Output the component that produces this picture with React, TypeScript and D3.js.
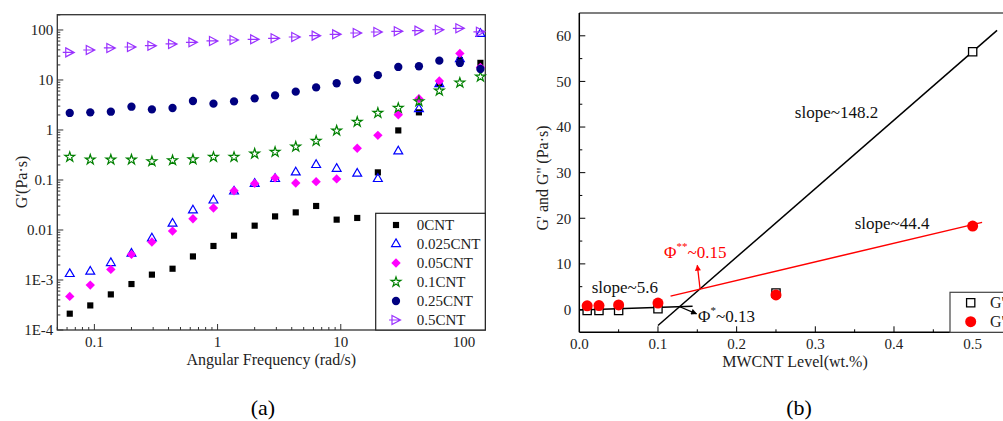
import React, { useEffect, useRef } from 'react';
import * as d3 from 'd3';

// (a) storage modulus vs angular frequency
const freq = [0.0631, 0.0926, 0.136, 0.2, 0.293, 0.431, 0.631, 0.926, 1.36, 2.0, 2.93, 4.31, 6.31, 9.26, 13.6, 20.0, 29.3, 43.1, 63.1, 92.6, 136];
const cnt0 = [2.12e-4, 3.1e-4, 5.15e-4, 8.3e-4, 1.28e-3, 1.68e-3, 2.96e-3, 4.79e-3, 7.7e-3, 0.0122, 0.0187, 0.0225, 0.0302, 0.0161, 0.0174, 0.142, 0.98, 2.25, 8.5, 25, 22];
const cnt025 = [1.32e-3, 1.47e-3, 2.19e-3, 3.36e-3, 6.8e-3, 0.0134, 0.0247, 0.039, 0.059, 0.084, 0.105, 0.142, 0.2, 0.168, 0.134, 0.105, 0.373, 2.63, 8.3, 26.3, 84];
const cnt05 = [4.7e-4, 7.9e-4, 1.63e-3, 3.25e-3, 5.75e-3, 9.5e-3, 0.0168, 0.0275, 0.061, 0.0855, 0.11, 0.087, 0.0925, 0.105, 0.43, 0.78, 2.02, 4.23, 9.55, 34, 17.9];
const cnt1 = [0.288, 0.255, 0.255, 0.255, 0.236, 0.247, 0.258, 0.288, 0.288, 0.336, 0.363, 0.463, 0.603, 0.97, 1.45, 2.19, 2.75, 3.73, 6.1, 8.8, 11.6];
const cnt25 = [2.19, 2.25, 2.32, 2.92, 2.58, 2.75, 3.8, 3.36, 3.73, 4.29, 4.92, 5.83, 7.1, 8.6, 10.1, 12.5, 18.2, 18.8, 24.3, 21.9, 16.6];
const cnt5 = [35.6, 39.8, 43.7, 45.7, 48.5, 52.5, 56.5, 60.3, 63, 64.9, 68, 72.4, 77, 81.7, 87, 91, 94, 97, 101, 108, 92];
const seriesNames = ['0CNT', '0.025CNT', '0.05CNT', '0.1CNT', '0.25CNT', '0.5CNT'];
const freqTicks = [0.1, 1, 10, 100];
const freqTickLabels = ['0.1', '1', '10', '100'];
const modTicks = [1e-4, 1e-3, 0.01, 0.1, 1, 10, 100];
const modTickLabels = ['1E-4', '1E-3', '0.01', '0.1', '1', '10', '100'];

// (b) moduli vs MWCNT level
const levels = [0.01, 0.025, 0.05, 0.1, 0.25, 0.5];
const gStorage = [-0.2, -0.2, -0.2, 0.15, 3.6, 56.5];
const gLoss = [0.8, 0.85, 1.0, 1.4, 3.2, 18.3];
const lowFit = [[0, -0.1], [0.144, 0.7]];
const steepFit = [[0.1, -3.5], [0.531, 61.2]];
const lossFit = [[0.116, 2.93], [0.512, 19.1]];
const redArrow = [[0.1534, 4.69], [0.15, 9.7]];
const blackArrow = [[0.127, 0.66], [0.149, -0.94]];
const levelTicks = [0, 0.1, 0.2, 0.3, 0.4, 0.5];
const levelTickLabels = ['0.0', '0.1', '0.2', '0.3', '0.4', '0.5'];
const gTicks = [0, 10, 20, 30, 40, 50, 60];
const slopeLabels = [
  { x: 0.274, y: 41.9, text: 'slope~148.2' },
  { x: 0.35, y: 17.6, text: 'slope~44.4' },
  { x: 0.0158, y: 3.6, text: 'slope~5.6' },
];

const FONT = "'Liberation Serif', 'Times New Roman', serif";

export default function App() {
  const ref = useRef<SVGSVGElement>(null);

  useEffect(() => {
    const svg = d3.select(ref.current);
    svg.selectAll('*').remove();

    const defs = svg.append('defs');
    [['arrowRed', '#ff0000'], ['arrowBlack', '#000']].forEach(([id, c]) => {
      defs
        .append('marker')
        .attr('id', id)
        .attr('viewBox', '0 0 10 10')
        .attr('refX', 9)
        .attr('refY', 5)
        .attr('markerUnits', 'userSpaceOnUse')
        .attr('markerWidth', 8)
        .attr('markerHeight', 6)
        .attr('orient', 'auto')
        .append('path')
        .attr('d', 'M0,0L10,5L0,10Z')
        .attr('fill', c);
    });

    // ---------- chart (a) ----------
    const A = { left: 57.3, right: 485.3, top: 14.7, bottom: 330 };
    const x = d3.scaleLog().domain([0.05, 149]).range([A.left, A.right]);
    const y = d3.scaleLog().domain([1e-4, 202]).range([A.bottom, A.top]);
    const a = svg.append('g');

    const isDecade = (v: number) => Math.abs(Math.log10(v) - Math.round(Math.log10(v))) < 1e-6;

    a.selectAll()
      .data(x.ticks())
      .enter()
      .append('line')
      .attr('x1', (d) => x(d))
      .attr('x2', (d) => x(d))
      .attr('y1', A.bottom)
      .attr('y2', (d) => A.bottom - (isDecade(d) ? 6 : 3))
      .attr('stroke', '#333')
      .attr('stroke-width', 1);

    a.selectAll()
      .data(y.ticks())
      .enter()
      .append('line')
      .attr('y1', (d) => y(d))
      .attr('y2', (d) => y(d))
      .attr('x1', A.left)
      .attr('x2', (d) => A.left + (isDecade(d) ? 6 : 3))
      .attr('stroke', '#333')
      .attr('stroke-width', 1);

    a.append('rect')
      .attr('x', A.left)
      .attr('y', A.top)
      .attr('width', A.right - A.left)
      .attr('height', A.bottom - A.top)
      .attr('fill', 'none')
      .attr('stroke', '#333')
      .attr('stroke-width', 1.3);

    a.selectAll()
      .data(freqTicks)
      .enter()
      .append('text')
      .attr('x', (d) => x(d))
      .attr('y', A.bottom + 17)
      .attr('text-anchor', 'middle')
      .style('font-family', FONT)
      .style('font-size', '15px')
      .attr('fill', '#222')
      .text((d, i) => freqTickLabels[i]);

    a.selectAll()
      .data(modTicks)
      .enter()
      .append('text')
      .attr('x', A.left - 4)
      .attr('y', (d) => y(d))
      .attr('dy', '0.35em')
      .attr('text-anchor', 'end')
      .style('font-family', FONT)
      .style('font-size', '15px')
      .attr('fill', '#222')
      .text((d, i) => modTickLabels[i]);

    a.append('text')
      .attr('x', (A.left + A.right) / 2)
      .attr('y', 365)
      .attr('text-anchor', 'middle')
      .style('font-family', FONT)
      .style('font-size', '16px')
      .attr('fill', '#222')
      .text('Angular Frequency (rad/s)');

    a.append('text')
      .attr('transform', 'translate(27,182) rotate(-90)')
      .attr('text-anchor', 'middle')
      .style('font-family', FONT)
      .style('font-size', '16px')
      .attr('fill', '#222')
      .text("G'(Pa·s)");

    a.append('text')
      .attr('x', 263)
      .attr('y', 415)
      .attr('text-anchor', 'middle')
      .style('font-family', FONT)
      .style('font-size', '22px')
      .text('(a)');

    const rightTri = 'M-4,-4.5L4.5,0L-4,4.5Z M-7,0L4.5,0';
    const styles = [
      { values: cnt0, d: d3.symbol().type(d3.symbolSquare).size(38)(), fill: '#000', stroke: 'none', rot: 0 },
      { values: cnt025, d: d3.symbol().type(d3.symbolTriangle).size(34)(), fill: 'none', stroke: '#0000ff', rot: 0 },
      { values: cnt05, d: d3.symbol().type(d3.symbolSquare).size(44)(), fill: '#ff00ff', stroke: 'none', rot: 45 },
      { values: cnt1, d: d3.symbol().type(d3.symbolStar).size(30)(), fill: 'none', stroke: '#008000', rot: 0 },
      { values: cnt25, d: d3.symbol().type(d3.symbolCircle).size(54)(), fill: '#000080', stroke: 'none', rot: 0 },
      { values: cnt5, d: rightTri, fill: 'none', stroke: '#9a32ff', rot: 0 },
    ];

    styles.forEach((s) => {
      a.selectAll()
        .data(freq.map((f, i) => [f, s.values[i]]))
        .enter()
        .append('path')
        .attr('transform', (d) => `translate(${x(d[0])},${y(d[1])}) rotate(${s.rot})`)
        .attr('d', s.d)
        .attr('fill', s.fill)
        .attr('stroke', s.stroke)
        .attr('stroke-width', 1.2);
    });

    // legend (a)
    const lg = a.append('g');
    lg.append('rect')
      .attr('x', 375.7)
      .attr('y', 213.3)
      .attr('width', A.right - 375.7)
      .attr('height', A.bottom - 213.3)
      .attr('fill', 'white')
      .attr('stroke', '#222')
      .attr('stroke-width', 1.2);
    styles.forEach((s, i) => {
      const ry = 225 + i * 19;
      lg.append('path')
        .attr('transform', `translate(396,${ry}) rotate(${s.rot})`)
        .attr('d', s.d)
        .attr('fill', s.fill)
        .attr('stroke', s.stroke)
        .attr('stroke-width', 1.2);
      lg.append('text')
        .attr('x', 416.7)
        .attr('y', ry + 5)
        .style('font-family', FONT)
        .style('font-size', '15px')
        .attr('fill', '#222')
        .text(seriesNames[i]);
    });

    // ---------- chart (b) ----------
    const B = { left: 579.3, right: 1012, top: 13, bottom: 332.3 };
    const bx = d3.scaleLinear().domain([0, 0.55]).range([B.left, B.right]);
    const by = d3.scaleLinear().domain([-5, 65]).range([B.bottom, B.top]);
    const b = svg.append('g');

    b.selectAll()
      .data(d3.range(1, 11).map((i) => i * 0.05))
      .enter()
      .append('line')
      .attr('x1', (d) => bx(d))
      .attr('x2', (d) => bx(d))
      .attr('y1', B.bottom)
      .attr('y2', (d, i) => B.bottom - (i % 2 === 1 ? 6 : 3))
      .attr('stroke', '#000')
      .attr('stroke-width', 1);

    b.selectAll()
      .data(d3.range(0, 13).map((i) => i * 5))
      .enter()
      .append('line')
      .attr('y1', (d) => by(d))
      .attr('y2', (d) => by(d))
      .attr('x1', B.left)
      .attr('x2', (d) => B.left + (d % 10 === 0 ? 6 : 3))
      .attr('stroke', '#000')
      .attr('stroke-width', 1);

    b.append('line')
      .attr('x1', B.left)
      .attr('x2', B.right)
      .attr('y1', B.top)
      .attr('y2', B.top)
      .attr('stroke', '#555')
      .attr('stroke-width', 1.6);
    b.append('line')
      .attr('x1', B.left)
      .attr('x2', B.left)
      .attr('y1', B.top)
      .attr('y2', B.bottom)
      .attr('stroke', '#000')
      .attr('stroke-width', 1.5);
    b.append('line')
      .attr('x1', B.left)
      .attr('x2', B.right)
      .attr('y1', B.bottom)
      .attr('y2', B.bottom)
      .attr('stroke', '#000')
      .attr('stroke-width', 1.5);

    b.selectAll()
      .data(levelTicks)
      .enter()
      .append('text')
      .attr('x', (d) => bx(d))
      .attr('y', B.bottom + 17)
      .attr('text-anchor', 'middle')
      .style('font-family', FONT)
      .style('font-size', '15px')
      .attr('fill', '#222')
      .text((d, i) => levelTickLabels[i]);

    b.selectAll()
      .data(gTicks)
      .enter()
      .append('text')
      .attr('x', B.left - 8)
      .attr('y', (d) => by(d))
      .attr('dy', '0.35em')
      .attr('text-anchor', 'end')
      .style('font-family', FONT)
      .style('font-size', '15px')
      .attr('fill', '#222')
      .text((d) => String(d));

    b.append('text')
      .attr('x', 795)
      .attr('y', 367)
      .attr('text-anchor', 'middle')
      .style('font-family', FONT)
      .style('font-size', '16px')
      .attr('fill', '#222')
      .text('MWCNT Level(wt.%)');

    b.append('text')
      .attr('transform', 'translate(548,178) rotate(-90)')
      .attr('text-anchor', 'middle')
      .style('font-family', FONT)
      .style('font-size', '16px')
      .attr('fill', '#222')
      .text("G' and G'' (Pa·s)");

    b.append('text')
      .attr('x', 799)
      .attr('y', 415)
      .attr('text-anchor', 'middle')
      .style('font-family', FONT)
      .style('font-size', '22px')
      .text('(b)');

    const line = d3
      .line()
      .x((d) => bx(d[0]))
      .y((d) => by(d[1]));

    [
      [lowFit, '#000'],
      [steepFit, '#000'],
      [lossFit, '#ff0000'],
    ].forEach(([pts, c]) => {
      b.append('path')
        .attr('d', line(pts as [number, number][]))
        .attr('fill', 'none')
        .attr('stroke', c as string)
        .attr('stroke-width', 1.5);
    });

    b.append('path')
      .attr('d', line(redArrow as [number, number][]))
      .attr('stroke', '#ff0000')
      .attr('stroke-width', 1.3)
      .attr('marker-end', 'url(#arrowRed)');
    b.append('path')
      .attr('d', line(blackArrow as [number, number][]))
      .attr('stroke', '#000')
      .attr('stroke-width', 1.3)
      .attr('marker-end', 'url(#arrowBlack)');

    const squareD = d3.symbol().type(d3.symbolSquare).size(68)();
    b.selectAll()
      .data(levels.map((l, i) => [l, gStorage[i]]))
      .enter()
      .append('path')
      .attr('transform', (d) => `translate(${bx(d[0])},${by(d[1])})`)
      .attr('d', squareD)
      .attr('fill', 'white')
      .attr('stroke', '#000')
      .attr('stroke-width', 1.3);

    b.selectAll()
      .data(levels.map((l, i) => [l, gLoss[i]]))
      .enter()
      .append('circle')
      .attr('cx', (d) => bx(d[0]))
      .attr('cy', (d) => by(d[1]))
      .attr('r', 5.5)
      .attr('fill', '#ff0000');

    slopeLabels.forEach((s) => {
      b.append('text')
        .attr('x', bx(s.x))
        .attr('y', by(s.y))
        .style('font-family', FONT)
        .style('font-size', '17px')
        .attr('fill', '#111')
        .text(s.text);
    });

    const phi = (px: number, py: number, sup: string, rest: string, c: string) => {
      const t = b
        .append('text')
        .attr('x', bx(px))
        .attr('y', by(py))
        .style('font-family', FONT)
        .style('font-size', '17px')
        .attr('fill', c);
      t.append('tspan').text('Φ');
      t.append('tspan').attr('dy', -8).style('font-size', '11px').text(sup);
      t.append('tspan').attr('dy', 8).text(rest);
    };
    phi(0.1077, 11.27, '**', '~0.15', '#ff0000');
    phi(0.151, -2.85, '*', '~0.13', '#111');

    // legend (b)
    b.append('rect')
      .attr('x', 950)
      .attr('y', 292.3)
      .attr('width', 80)
      .attr('height', B.bottom - 292.3)
      .attr('fill', 'white')
      .attr('stroke', '#444')
      .attr('stroke-width', 1.2);
    b.append('path')
      .attr('transform', 'translate(970.7,302.7)')
      .attr('d', squareD)
      .attr('fill', 'white')
      .attr('stroke', '#000')
      .attr('stroke-width', 1.3);
    b.append('circle')
      .attr('cx', 970.7)
      .attr('cy', 321.7)
      .attr('r', 5.5)
      .attr('fill', '#ff0000');
    ["G'", "G''"].forEach((t, i) => {
      b.append('text')
        .attr('x', 990)
        .attr('y', 308 + i * 19)
        .style('font-family', FONT)
        .style('font-size', '16px')
        .attr('fill', '#222')
        .text(t);
    });
  }, []);

  return (
    <svg
      ref={ref}
      width={1003}
      height={421}
      style={{ position: 'absolute', left: 0, top: 0, background: 'white', display: 'block' }}
    />
  );
}
